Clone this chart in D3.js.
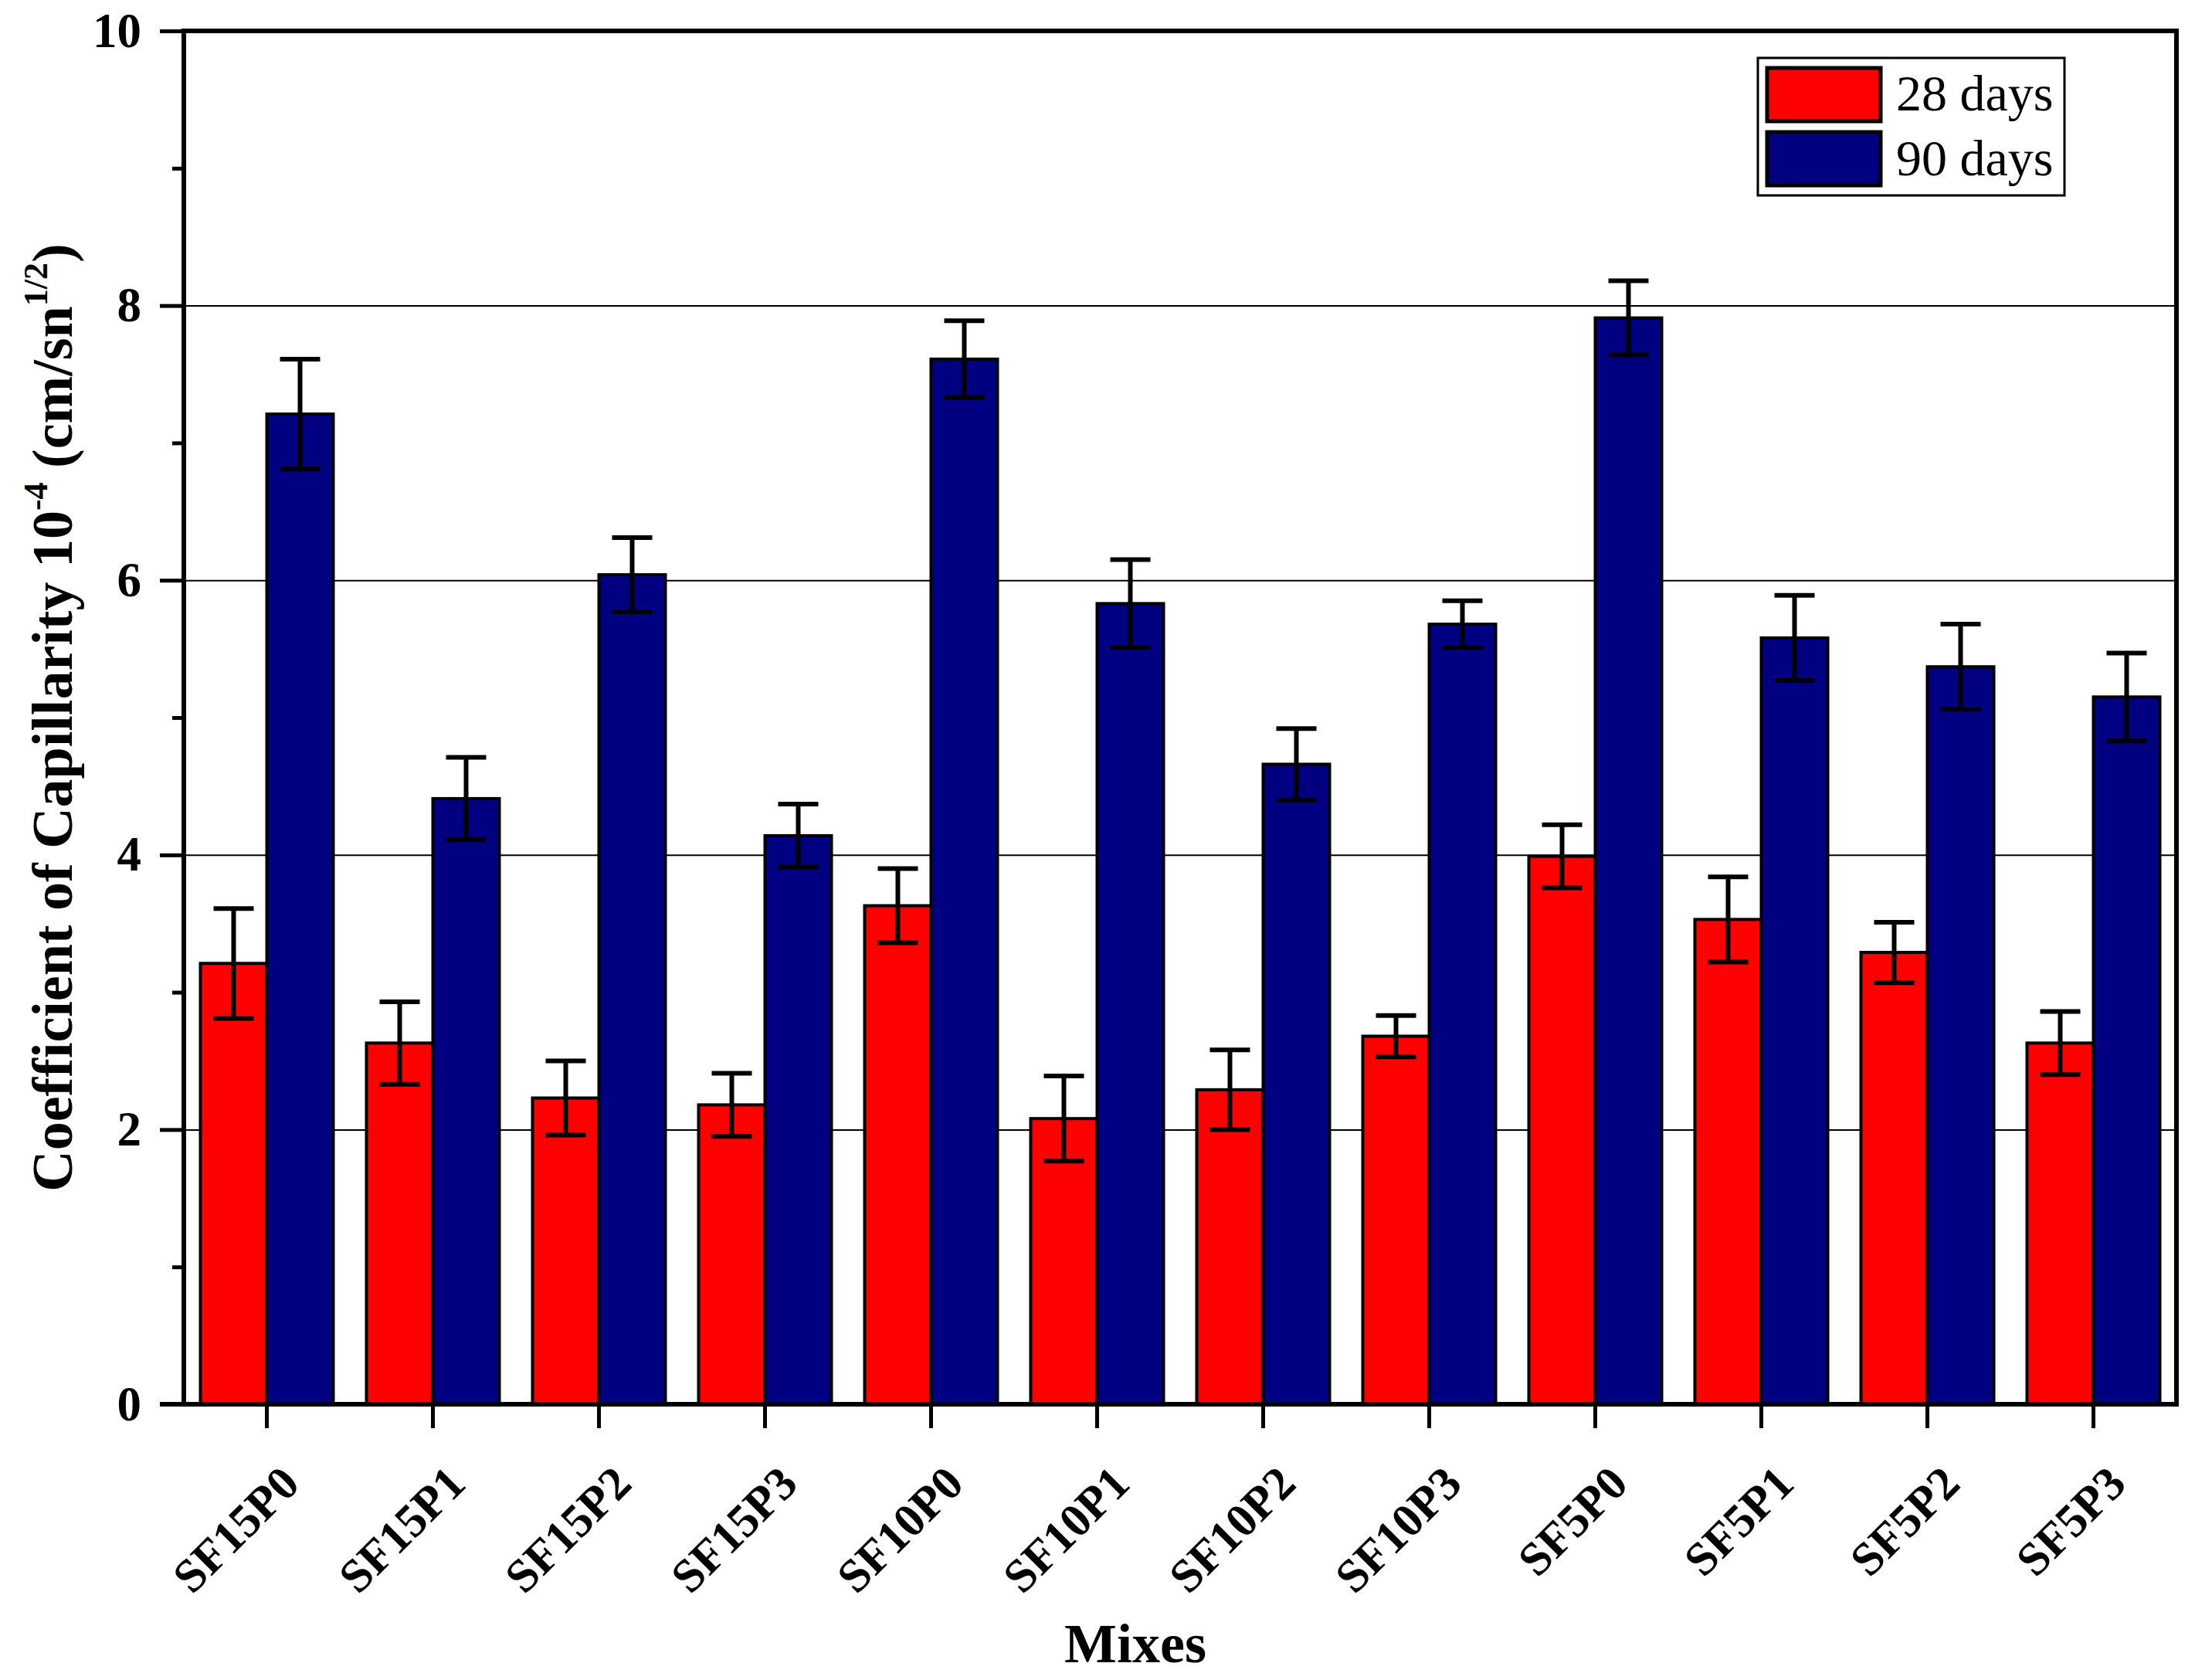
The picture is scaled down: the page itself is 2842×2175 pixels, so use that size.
<!DOCTYPE html>
<html>
<head>
<meta charset="utf-8">
<script src="https://cdn.jsdelivr.net/npm/d3@7"></script>
<style>
  html, body { margin: 0; padding: 0; background: #fff; }
  svg { display: block; }
  text { font-family: "Liberation Serif", "Times New Roman", serif; }
</style>
</head>
<body>
<svg id="chart" width="2842" height="2175"></svg>
<script>
// ---- data ----
const categories = ["SF15P0","SF15P1","SF15P2","SF15P3","SF10P0","SF10P1","SF10P2","SF10P3","SF5P0","SF5P1","SF5P2","SF5P3"];
const seriesNames = ["28 days", "90 days"];
const days28 = [3.21, 2.63, 2.23, 2.18, 3.63, 2.08, 2.29, 2.68, 3.99, 3.53, 3.29, 2.63];
const err28  = [0.40, 0.30, 0.27, 0.23, 0.27, 0.31, 0.29, 0.15, 0.23, 0.31, 0.22, 0.23];
const days90 = [7.21, 4.41, 6.04, 4.14, 7.61, 5.83, 4.66, 5.68, 7.91, 5.58, 5.37, 5.15];
const err90  = [0.40, 0.30, 0.27, 0.23, 0.28, 0.32, 0.26, 0.17, 0.27, 0.31, 0.31, 0.32];
const yMajorTicks = [0, 2, 4, 6, 8, 10];
const yMinorTicks = [1, 3, 5, 7, 9];
const gridTicks = [2, 4, 6, 8];
const colors = ["#FF0000", "#000080"];

// ---- layout ----
const pLeft = 238, pRight = 2818, pTop = 40, pBottom = 1818;
const svg = d3.select("#chart");

const x = d3.scaleBand().domain(categories).range([pLeft, pRight]).paddingInner(0.2).paddingOuter(0.1);
const y = d3.scaleLinear().domain([0, 10]).range([pBottom, pTop]);
const bw = x.bandwidth() / 2;

const rows = categories.map((c, i) => ({
  cat: c,
  vals: [
    {s: 0, v: days28[i], e: err28[i]},
    {s: 1, v: days90[i], e: err90[i]}
  ]
}));

// gridlines
svg.append("g")
  .attr("transform", `translate(${pLeft},0)`)
  .call(d3.axisLeft(y).tickValues(gridTicks).tickSize(-(pRight - pLeft)).tickFormat(""))
  .call(g => g.select(".domain").remove())
  .call(g => g.selectAll("line").attr("stroke", "#000").attr("stroke-width", 2));

// bars
const groups = svg.append("g").selectAll("g").data(rows).join("g");
groups.selectAll("rect").data(d => d.vals.map(o => Object.assign({cat: d.cat}, o))).join("rect")
  .attr("x", d => x(d.cat) + d.s * bw)
  .attr("y", d => y(d.v))
  .attr("width", bw)
  .attr("height", d => y(0) - y(d.v))
  .attr("fill", d => colors[d.s])
  .attr("stroke", "#000")
  .attr("stroke-width", 4);

// error bars
const capHalf = 26;
const eg = groups.selectAll("g.err").data(d => d.vals.map(o => Object.assign({cat: d.cat}, o))).join("g").attr("class", "err");
const cx = d => x(d.cat) + d.s * bw + bw / 2;
eg.append("line")
  .attr("x1", cx).attr("x2", cx)
  .attr("y1", d => y(d.v + d.e)).attr("y2", d => y(d.v - d.e))
  .attr("stroke", "#000").attr("stroke-width", 6);
eg.append("line")
  .attr("x1", d => cx(d) - capHalf).attr("x2", d => cx(d) + capHalf)
  .attr("y1", d => y(d.v + d.e)).attr("y2", d => y(d.v + d.e))
  .attr("stroke", "#000").attr("stroke-width", 6);
eg.append("line")
  .attr("x1", d => cx(d) - capHalf).attr("x2", d => cx(d) + capHalf)
  .attr("y1", d => y(d.v - d.e)).attr("y2", d => y(d.v - d.e))
  .attr("stroke", "#000").attr("stroke-width", 6);

// frame: top and right
svg.append("line").attr("x1", pLeft).attr("x2", pRight).attr("y1", pTop).attr("y2", pTop)
  .attr("stroke", "#000").attr("stroke-width", 6);
svg.append("line").attr("x1", pRight).attr("x2", pRight).attr("y1", pTop - 3).attr("y2", pBottom + 3)
  .attr("stroke", "#000").attr("stroke-width", 6);

// y axis major
const yAxis = svg.append("g").attr("transform", `translate(${pLeft},0)`)
  .call(d3.axisLeft(y).tickValues(yMajorTicks).tickSize(31).tickPadding(24).tickFormat(d3.format("d")));
yAxis.select(".domain").attr("stroke-width", 6).attr("d", `M0,${pTop - 3}V${pBottom + 3}`);
yAxis.selectAll(".tick line").attr("stroke-width", 5);
yAxis.selectAll(".tick text")
  .attr("font-family", "Liberation Serif").attr("font-weight", "bold").attr("font-size", 63).attr("fill", "#000");

// y axis minor
svg.append("g").attr("transform", `translate(${pLeft},0)`)
  .call(d3.axisLeft(y).tickValues(yMinorTicks).tickSize(15).tickFormat(""))
  .call(g => g.select(".domain").remove())
  .call(g => g.selectAll("line").attr("stroke-width", 5));

// x axis
const xAxis = svg.append("g").attr("transform", `translate(0,${pBottom})`)
  .call(d3.axisBottom(x).tickSize(31).tickSizeOuter(0).tickFormat(""));
xAxis.select(".domain").attr("stroke-width", 6).attr("d", `M${pLeft - 31},0H${pRight + 3}`);
xAxis.selectAll(".tick line").attr("stroke-width", 5);

// x labels rotated
svg.append("g").selectAll("text").data(categories).join("text")
  .attr("transform", d => `translate(${x(d) + x.bandwidth() / 2 + 45},${pBottom + 106}) rotate(-45)`)
  .attr("text-anchor", "end")
  .attr("font-weight", "bold")
  .attr("font-size", 61)
  .text(d => d);

// x title
svg.append("text").attr("x", 1470).attr("y", 2152).attr("text-anchor", "middle")
  .attr("font-weight", "bold").attr("font-size", 72).text("Mixes");

// y title
const yt = svg.append("text")
  .attr("transform", `translate(93,${(pTop + pBottom) / 2}) rotate(-90)`)
  .attr("text-anchor", "middle")
  .attr("font-weight", "bold").attr("font-size", 74);
yt.append("tspan").text("Coefficient of Capillarity 10");
yt.append("tspan").attr("font-size", 44).attr("dy", -32).text("-4");
yt.append("tspan").attr("dy", 32).text(" (cm/sn");
yt.append("tspan").attr("font-size", 44).attr("dy", -32).text("1/2");
yt.append("tspan").attr("dy", 32).text(")");

// legend
const lg = svg.append("g");
lg.append("rect").attr("x", 2276).attr("y", 75).attr("width", 397).attr("height", 178)
  .attr("fill", "#fff").attr("stroke", "#000").attr("stroke-width", 3);
seriesNames.forEach((name, i) => {
  lg.append("rect").attr("x", 2288).attr("y", 88 + i * 83).attr("width", 147).attr("height", 69)
    .attr("fill", colors[i]).attr("stroke", "#000").attr("stroke-width", 5);
  lg.append("text").attr("x", 2455).attr("y", 143 + i * 84)
    .attr("font-size", 66).attr("fill", "#000").text(name);
});
</script>
</body>
</html>
